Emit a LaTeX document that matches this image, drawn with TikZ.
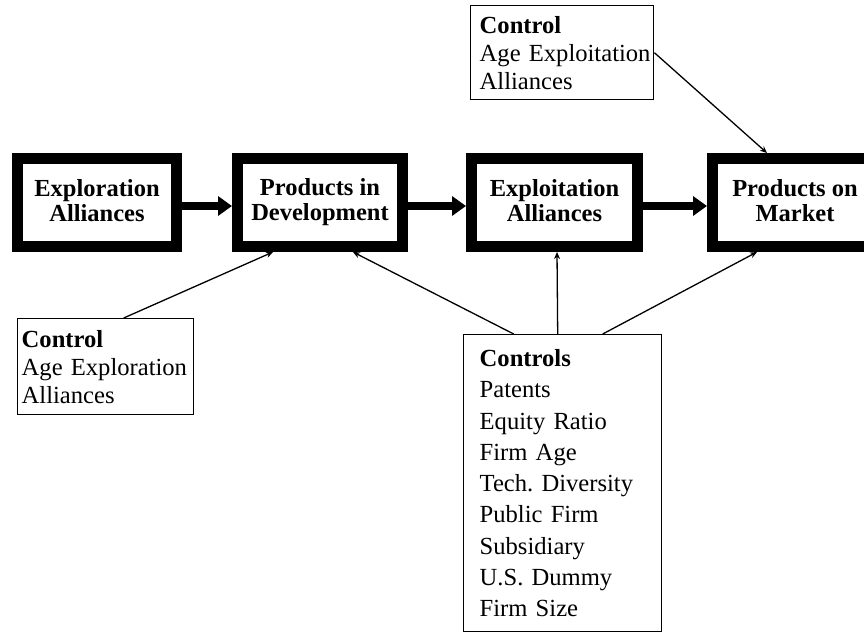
\documentclass[tikz,border=0pt]{standalone}
\usepackage{fontspec}
\setmainfont{Liberation Serif}
\usetikzlibrary{arrows.meta}
\frenchspacing
\hyphenpenalty=10000
\exhyphenpenalty=10000
\hbadness=10000
\hfuzz=50pt
\newcommand{\stagestrut}{\rule[-5pt]{0pt}{22pt}}
\begin{document}
\begin{tikzpicture}[x=1pt,y=-1pt,
  stage/.style={draw, line width=11pt, minimum width=159pt, minimum height=88pt,
    align=center, inner sep=0pt,
    font=\fontsize{24.5}{25}\selectfont\bfseries,
    execute at begin node=\stagestrut, execute at end node=\stagestrut},
  ctrlbox/.style={draw, line width=1.4pt, anchor=north west, align=left,
    inner ysep=0pt, font=\fontsize{24.6}{28}\selectfont},
  flow/.style={line width=8pt, -{Triangle[length=14pt,width=19pt]}},
  link/.style={line width=1.3pt, -{Stealth[length=7pt,width=6pt]}}]
\useasboundingbox (0,0) rectangle (864,633);

% main chain of stages
\node[stage] (b1) at (97,202.5) {Exploration\\Alliances};
\node[stage, minimum width=165pt] (b2) at (320,202.5) {Products in\\Development};
\node[stage, minimum width=166pt] (b3) at (554.5,202.5) {Exploitation\\Alliances};
\node[stage, minimum width=165pt] (b4) at (795,202.5) {Products on\\Market};

% control variables
\node[ctrlbox, inner xsep=9pt, text width=165pt, minimum height=94pt] (ct) at (470,5)
  {\textbf{Control}\\\mbox{Age Exploitation}\\Alliances};
\node[ctrlbox, inner xsep=4pt, text width=168pt, minimum height=96pt] (cl) at (17,318)
  {\textbf{Control}\\\mbox{Age Exploration}\\Alliances};
\node[ctrlbox, inner xsep=16pt, text width=166pt, minimum height=297pt,
  font=\fontsize{24.6}{31.25}\selectfont] (cs) at (463,334)
  {\textbf{Controls}\\Patents\\Equity Ratio\\Firm Age\\Tech. Diversity\\Public Firm\\Subsidiary\\U.S. Dummy\\Firm Size};

% flows between stages
\draw[flow] ([yshift=-3.5pt]b1.east) -- ([yshift=-3.5pt]b2.west);
\draw[flow] ([yshift=-3.5pt]b2.east) -- ([yshift=-3.5pt]b3.west);
\draw[flow] ([yshift=-3.5pt]b3.east) -- ([yshift=-3.5pt]b4.west);

% control links
\draw[link] ([xshift=18pt]cl.north) -- ([xshift=-47pt]b2.south);
\draw[link] ([xshift=-49pt]cs.north) -- ([xshift=33pt]b2.south);
\draw[link] ([xshift=-5pt]cs.north) -- ([xshift=2.5pt]b3.south);
\draw[link] ([xshift=40pt]cs.north) -- ([xshift=-38pt]b4.south);
\draw[link] (ct.east) -- ([xshift=-28pt]b4.north);
\end{tikzpicture}
\end{document}
